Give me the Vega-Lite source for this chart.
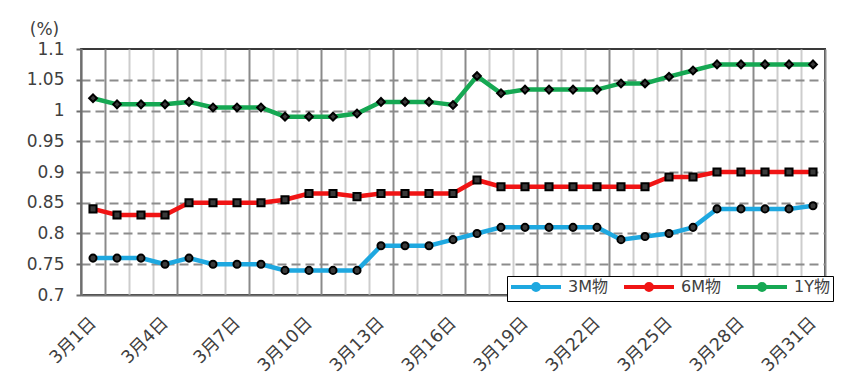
{
  "$schema": "https://vega.github.io/schema/vega-lite/v6.json",
  "width": 744,
  "height": 246,
  "autosize": {"type": "none"},
  "padding": {"left": 81, "top": 49, "right": 29, "bottom": 94},
  "background": "white",
  "config": {
    "font": "DejaVu Sans, Noto Sans CJK JP",
    "view": {"stroke": "#3a3a3a", "strokeWidth": 2},
    "axis": {
      "labelFont": "DejaVu Sans, Noto Sans CJK JP",
      "labelFontSize": 16,
      "labelColor": "#404040",
      "titleFont": "DejaVu Sans, Noto Sans CJK JP"
    },
    "legend": {
      "labelFont": "DejaVu Sans, Noto Sans CJK JP",
      "labelFontSize": 16,
      "labelColor": "#404040"
    }
  },
  "data": {
    "values": [
      {"date": "3月1日", "series": "3M物", "value": 0.76},
      {"date": "3月2日", "series": "3M物", "value": 0.76},
      {"date": "3月3日", "series": "3M物", "value": 0.76},
      {"date": "3月4日", "series": "3M物", "value": 0.75},
      {"date": "3月5日", "series": "3M物", "value": 0.76},
      {"date": "3月6日", "series": "3M物", "value": 0.75},
      {"date": "3月7日", "series": "3M物", "value": 0.75},
      {"date": "3月8日", "series": "3M物", "value": 0.75},
      {"date": "3月9日", "series": "3M物", "value": 0.74},
      {"date": "3月10日", "series": "3M物", "value": 0.74},
      {"date": "3月11日", "series": "3M物", "value": 0.74},
      {"date": "3月12日", "series": "3M物", "value": 0.74},
      {"date": "3月13日", "series": "3M物", "value": 0.78},
      {"date": "3月14日", "series": "3M物", "value": 0.78},
      {"date": "3月15日", "series": "3M物", "value": 0.78},
      {"date": "3月16日", "series": "3M物", "value": 0.79},
      {"date": "3月17日", "series": "3M物", "value": 0.80},
      {"date": "3月18日", "series": "3M物", "value": 0.81},
      {"date": "3月19日", "series": "3M物", "value": 0.81},
      {"date": "3月20日", "series": "3M物", "value": 0.81},
      {"date": "3月21日", "series": "3M物", "value": 0.81},
      {"date": "3月22日", "series": "3M物", "value": 0.81},
      {"date": "3月23日", "series": "3M物", "value": 0.79},
      {"date": "3月24日", "series": "3M物", "value": 0.795},
      {"date": "3月25日", "series": "3M物", "value": 0.80},
      {"date": "3月26日", "series": "3M物", "value": 0.81},
      {"date": "3月27日", "series": "3M物", "value": 0.84},
      {"date": "3月28日", "series": "3M物", "value": 0.84},
      {"date": "3月29日", "series": "3M物", "value": 0.84},
      {"date": "3月30日", "series": "3M物", "value": 0.84},
      {"date": "3月31日", "series": "3M物", "value": 0.845},
      {"date": "3月1日", "series": "6M物", "value": 0.84},
      {"date": "3月2日", "series": "6M物", "value": 0.83},
      {"date": "3月3日", "series": "6M物", "value": 0.83},
      {"date": "3月4日", "series": "6M物", "value": 0.83},
      {"date": "3月5日", "series": "6M物", "value": 0.85},
      {"date": "3月6日", "series": "6M物", "value": 0.85},
      {"date": "3月7日", "series": "6M物", "value": 0.85},
      {"date": "3月8日", "series": "6M物", "value": 0.85},
      {"date": "3月9日", "series": "6M物", "value": 0.855},
      {"date": "3月10日", "series": "6M物", "value": 0.865},
      {"date": "3月11日", "series": "6M物", "value": 0.865},
      {"date": "3月12日", "series": "6M物", "value": 0.86},
      {"date": "3月13日", "series": "6M物", "value": 0.865},
      {"date": "3月14日", "series": "6M物", "value": 0.865},
      {"date": "3月15日", "series": "6M物", "value": 0.865},
      {"date": "3月16日", "series": "6M物", "value": 0.865},
      {"date": "3月17日", "series": "6M物", "value": 0.887},
      {"date": "3月18日", "series": "6M物", "value": 0.876},
      {"date": "3月19日", "series": "6M物", "value": 0.876},
      {"date": "3月20日", "series": "6M物", "value": 0.876},
      {"date": "3月21日", "series": "6M物", "value": 0.876},
      {"date": "3月22日", "series": "6M物", "value": 0.876},
      {"date": "3月23日", "series": "6M物", "value": 0.876},
      {"date": "3月24日", "series": "6M物", "value": 0.876},
      {"date": "3月25日", "series": "6M物", "value": 0.892},
      {"date": "3月26日", "series": "6M物", "value": 0.892},
      {"date": "3月27日", "series": "6M物", "value": 0.9},
      {"date": "3月28日", "series": "6M物", "value": 0.9},
      {"date": "3月29日", "series": "6M物", "value": 0.9},
      {"date": "3月30日", "series": "6M物", "value": 0.9},
      {"date": "3月31日", "series": "6M物", "value": 0.9},
      {"date": "3月1日", "series": "1Y物", "value": 1.02},
      {"date": "3月2日", "series": "1Y物", "value": 1.01},
      {"date": "3月3日", "series": "1Y物", "value": 1.01},
      {"date": "3月4日", "series": "1Y物", "value": 1.01},
      {"date": "3月5日", "series": "1Y物", "value": 1.014},
      {"date": "3月6日", "series": "1Y物", "value": 1.005},
      {"date": "3月7日", "series": "1Y物", "value": 1.005},
      {"date": "3月8日", "series": "1Y物", "value": 1.005},
      {"date": "3月9日", "series": "1Y物", "value": 0.99},
      {"date": "3月10日", "series": "1Y物", "value": 0.99},
      {"date": "3月11日", "series": "1Y物", "value": 0.99},
      {"date": "3月12日", "series": "1Y物", "value": 0.995},
      {"date": "3月13日", "series": "1Y物", "value": 1.014},
      {"date": "3月14日", "series": "1Y物", "value": 1.014},
      {"date": "3月15日", "series": "1Y物", "value": 1.014},
      {"date": "3月16日", "series": "1Y物", "value": 1.009},
      {"date": "3月17日", "series": "1Y物", "value": 1.056},
      {"date": "3月18日", "series": "1Y物", "value": 1.028},
      {"date": "3月19日", "series": "1Y物", "value": 1.034},
      {"date": "3月20日", "series": "1Y物", "value": 1.034},
      {"date": "3月21日", "series": "1Y物", "value": 1.034},
      {"date": "3月22日", "series": "1Y物", "value": 1.034},
      {"date": "3月23日", "series": "1Y物", "value": 1.044},
      {"date": "3月24日", "series": "1Y物", "value": 1.044},
      {"date": "3月25日", "series": "1Y物", "value": 1.055},
      {"date": "3月26日", "series": "1Y物", "value": 1.065},
      {"date": "3月27日", "series": "1Y物", "value": 1.075},
      {"date": "3月28日", "series": "1Y物", "value": 1.075},
      {"date": "3月29日", "series": "1Y物", "value": 1.075},
      {"date": "3月30日", "series": "1Y物", "value": 1.075},
      {"date": "3月31日", "series": "1Y物", "value": 1.075}
    ]
  },
  "encoding": {
    "x": {
      "field": "date",
      "type": "ordinal",
      "sort": null,
      "scale": {"paddingInner": 0, "paddingOuter": 0},
      "axis": {
        "title": null,
        "tickBand": "extent",
        "ticks": false,
        "domain": true,
        "domainColor": "#6e6e6e",
        "domainWidth": 2,
        "grid": true,
        "gridWidth": 2,
        "gridColor": {
          "condition": {
            "test": "indexof(['3月1日','3月4日','3月7日','3月10日','3月13日','3月16日','3月19日','3月22日','3月25日','3月28日','3月31日'], datum.value) >= 0",
            "value": "#8a8a8a"
          },
          "value": "#cdcdcd"
        },
        "labelExpr": "indexof(['3月1日','3月4日','3月7日','3月10日','3月13日','3月16日','3月19日','3月22日','3月25日','3月28日','3月31日'], datum.value) >= 0 ? datum.label : ''",
        "labelFontSize": 17.5,
        "labelAngle": -45,
        "labelAlign": "right",
        "labelBaseline": "middle",
        "labelPadding": 25,
        "labelOverlap": false
      }
    },
    "y": {
      "field": "value",
      "type": "quantitative",
      "scale": {"domain": [0.7, 1.1], "nice": false, "zero": false},
      "axis": {
        "values": [0.7, 0.75, 0.8, 0.85, 0.9, 0.95, 1, 1.05, 1.1],
        "format": "~g",
        "labelFontSize": 17,
        "title": "(%)",
        "titleAngle": 0,
        "titleX": -37,
        "titleY": -15,
        "titleAlign": "center",
        "titleBaseline": "alphabetic",
        "titleFontSize": 17,
        "titleFontWeight": "normal",
        "titleColor": "#404040",
        "domainColor": "#6e6e6e",
        "domainWidth": 2,
        "tickColor": "#6e6e6e",
        "tickWidth": 2,
        "tickSize": 5,
        "labelPadding": 12,
        "grid": true,
        "gridColor": "#8c8c8c",
        "gridWidth": 2,
        "gridDash": [9, 5],
        "gridOpacity": {
          "condition": {"test": "datum.value < 0.701 || datum.value > 1.099", "value": 0},
          "value": 1
        }
      }
    }
  },
  "layer": [
    {
      "mark": {"type": "line", "strokeWidth": 4.5},
      "encoding": {
        "color": {
          "field": "series",
          "type": "nominal",
          "sort": ["3M物", "6M物", "1Y物"],
          "scale": {"domain": ["3M物", "6M物", "1Y物"], "range": ["#1ea8e0", "#f01414", "#16a853"]},
          "legend": {
            "title": null,
            "orient": "none",
            "legendX": 426,
            "legendY": 227,
            "direction": "horizontal",
            "strokeColor": "#000000",
            "fillColor": "#ffffff",
            "padding": 3,
            "columnPadding": 8,
            "symbolType": "M-1.4,0H8.6M3,0a0.6,0.6 0 1,0 1.2,0a0.6,0.6 0 1,0 -1.2,0",
            "symbolSize": 100,
            "symbolStrokeWidth": 4,
            "symbolFillColor": "#111111",
            "labelOffset": 42
          }
        }
      }
    },
    {
      "transform": [{"filter": "datum.series === '3M物'"}],
      "mark": {"type": "point", "shape": "circle", "filled": true, "size": 50, "fill": "#3a3a3a", "stroke": "#000000", "strokeWidth": 2, "opacity": 1}
    },
    {
      "transform": [{"filter": "datum.series === '6M物'"}],
      "mark": {"type": "point", "shape": "square", "filled": true, "size": 50, "fill": "#3a3a3a", "stroke": "#000000", "strokeWidth": 2, "opacity": 1}
    },
    {
      "transform": [{"filter": "datum.series === '1Y物'"}],
      "mark": {"type": "point", "shape": "diamond", "filled": true, "size": 60, "fill": "#3a3a3a", "stroke": "#000000", "strokeWidth": 2, "opacity": 1}
    }
  ]
}
